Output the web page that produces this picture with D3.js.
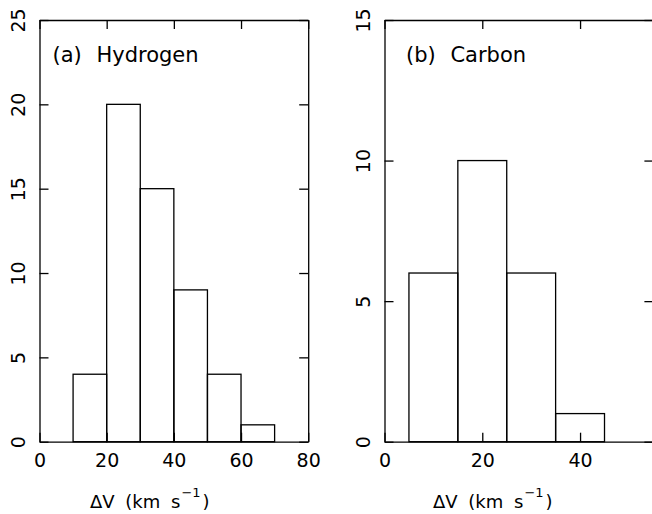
<!DOCTYPE html>
<html>
<head>
<meta charset="utf-8">
<script src="https://cdn.jsdelivr.net/npm/d3@7"></script>
<style>
  html, body { margin: 0; padding: 0; background: #fff; }
  svg text { font-family: "DejaVu Sans", sans-serif; fill: #000; }
</style>
</head>
<body>
<script>
// ---- data ----
const hydrogenBinStart = [10, 20, 30, 40, 50, 60, 70];
const hydrogenCounts   = [4, 20, 15, 9, 4, 1, 0];
const carbonBinStart   = [5, 15, 25, 35, 45];
const carbonCounts     = [6, 10, 6, 1, 0];
const binWidth = 10;

const hydrogenXTicks = [0, 20, 40, 60, 80];
const hydrogenYTicks = [0, 5, 10, 15, 20, 25];
const carbonXTicks   = [0, 20, 40];
const carbonYTicks   = [0, 5, 10, 15];

const panelLabels = ["(a) Hydrogen", "(b) Carbon"];

// ---- layout ----
const W = 652, H = 514;
const svg = d3.select("body").append("svg").attr("width", W).attr("height", H);

const yTop = 20, yBottom = 441.7;

const panels = [
  { starts: hydrogenBinStart, counts: hydrogenCounts, xDomain: [0, 80], yDomain: [0, 25],
    xRange: [39.5, 308.2], xTicks: hydrogenXTicks, yTicks: hydrogenYTicks,
    label: panelLabels[0], labelX: 52.5, xLabelX: 90 },
  { starts: carbonBinStart, counts: carbonCounts, xDomain: [0, 55], yDomain: [0, 15],
    xRange: [384.5, 653.4], xTicks: carbonXTicks, yTicks: carbonYTicks,
    label: panelLabels[1], labelX: 406, xLabelX: 433 }
];

const stroke = "#000", sw = 1.3, tick = 9, fs = 19;

panels.forEach(p => {
  const x = d3.scaleLinear().domain(p.xDomain).range(p.xRange);
  const y = d3.scaleLinear().domain(p.yDomain).range([yBottom, yTop]);
  const g = svg.append("g");

  // histogram bars
  g.selectAll("rect.bar").data(p.starts.map((s, i) => ({ s, c: p.counts[i] })))
    .enter().append("rect")
    .attr("x", d => x(d.s))
    .attr("y", d => y(d.c))
    .attr("width", d => x(d.s + binWidth) - x(d.s))
    .attr("height", d => y(0) - y(d.c))
    .attr("fill", "none").attr("stroke", stroke).attr("stroke-width", sw);

  // axes
  const bottom = g.append("g").attr("transform", `translate(0,${yBottom})`)
    .call(d3.axisBottom(x).tickValues(p.xTicks).tickSizeInner(-tick).tickSizeOuter(0));
  const top = g.append("g").attr("transform", `translate(0,${yTop})`)
    .call(d3.axisTop(x).tickValues(p.xTicks).tickSizeInner(-tick).tickSizeOuter(0).tickFormat(""));
  const left = g.append("g").attr("transform", `translate(${p.xRange[0]},0)`)
    .call(d3.axisLeft(y).tickValues(p.yTicks).tickSizeInner(-tick).tickSizeOuter(0));
  const right = g.append("g").attr("transform", `translate(${p.xRange[1]},0)`)
    .call(d3.axisRight(y).tickValues(p.yTicks).tickSizeInner(-tick).tickSizeOuter(0).tickFormat(""));

  [bottom, top, left, right].forEach(a => {
    a.selectAll("path.domain").attr("stroke", stroke).attr("stroke-width", sw);
    a.selectAll(".tick line").attr("stroke", stroke).attr("stroke-width", sw);
    a.selectAll("text").attr("font-size", fs).attr("font-family", "DejaVu Sans, sans-serif").attr("fill", "#000");
  });

  bottom.selectAll(".tick text").attr("y", 25.5).attr("dy", null);
  left.selectAll(".tick text")
    .attr("x", null).attr("dy", null)
    .attr("text-anchor", "middle")
    .attr("transform", "translate(-14.5,0) rotate(-90)");

  // panel label
  g.append("text")
    .attr("x", p.labelX).attr("y", 62)
    .attr("font-size", 21)
    .attr("word-spacing", 8)
    .text(p.label);

  // x-axis title
  const t = g.append("text").attr("x", p.xLabelX).attr("y", 508).attr("font-size", 18)
    .attr("word-spacing", 5);
  t.append("tspan").text("\u0394V (km s");
  t.append("tspan").attr("dy", -11).attr("dx", 1).attr("font-size", 13).text("\u22121");
  t.append("tspan").attr("dy", 11).attr("dx", 2).text(")");
});
</script>
</body>
</html>
